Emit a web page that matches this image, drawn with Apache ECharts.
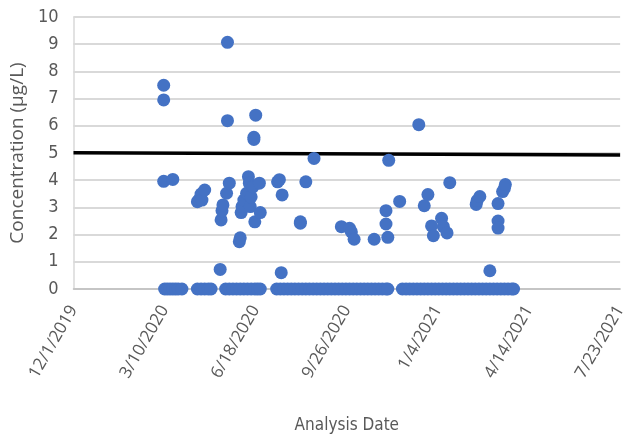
<!DOCTYPE html>
<html>
<head>
<meta charset="utf-8">
<script src="https://cdn.jsdelivr.net/npm/echarts@6/dist/echarts.min.js"></script>
<style>html,body{margin:0;padding:0;background:#fff;}#c{width:629px;height:445px;}</style>
</head>
<body>
<div id="c"></div>
<script>
// ---- data ----
const detectDates = [
 '2020-03-09','2020-03-09','2020-03-09','2020-03-19',
 '2020-04-15','2020-04-17','2020-04-19','2020-04-20','2020-04-23',
 '2020-05-10','2020-05-11','2020-05-12','2020-05-13','2020-05-17','2020-05-18','2020-05-18','2020-05-20',
 '2020-05-31','2020-06-01','2020-06-02','2020-06-03','2020-06-05','2020-06-08','2020-06-10','2020-06-11',
 '2020-06-12','2020-06-13','2020-06-15','2020-06-16','2020-06-16','2020-06-17','2020-06-18','2020-06-22','2020-06-23',
 '2020-07-12','2020-07-14','2020-07-16','2020-07-17',
 '2020-08-06','2020-08-06','2020-08-12','2020-08-21',
 '2020-09-20','2020-09-29','2020-10-01','2020-10-04','2020-10-26',
 '2020-11-08','2020-11-08','2020-11-10','2020-11-11','2020-11-23',
 '2020-12-14','2020-12-20','2020-12-24','2020-12-28','2020-12-30',
 '2021-01-08','2021-01-10','2021-01-14','2021-01-17',
 '2021-02-15','2021-02-16','2021-02-19',
 '2021-03-02','2021-03-11','2021-03-11','2021-03-11','2021-03-16','2021-03-18','2021-03-19'
];
const detectValues = [
 7.49,6.95,3.96,4.03,
 3.21,3.30,3.49,3.27,3.64,
 0.72,2.54,2.88,3.09,3.52,9.07,6.19,3.89,
 1.74,1.88,2.81,3.03,3.27,3.52,4.13,3.89,
 3.03,3.39,3.76,5.58,5.50,2.47,6.39,3.89,2.81,
 3.94,4.02,0.60,3.46,
 2.47,2.42,3.94,4.80,
 2.29,2.23,2.10,1.83,1.83,
 2.88,2.39,1.90,4.73,3.22,
 6.04,3.06,3.47,2.32,1.96,
 2.60,2.29,2.06,3.91,
 3.11,3.25,3.40,
 0.67,3.14,2.50,2.24,3.58,3.70,3.84
];
const nonDetectDates = [
 '2020-03-10','2020-03-13','2020-03-16','2020-03-19','2020-03-22','2020-03-25','2020-03-29',
 '2020-04-15','2020-04-19','2020-04-23','2020-04-27','2020-04-30',
 '2020-05-16','2020-05-20','2020-05-24','2020-05-28','2020-06-01','2020-06-05','2020-06-09','2020-06-13','2020-06-17','2020-06-20','2020-06-23',
 '2020-07-11','2020-07-15','2020-07-19','2020-07-23','2020-07-27','2020-07-31','2020-08-04','2020-08-08','2020-08-12','2020-08-16',
 '2020-08-20','2020-08-24','2020-08-28','2020-09-01','2020-09-05','2020-09-09','2020-09-13','2020-09-17','2020-09-21','2020-09-25',
 '2020-09-29','2020-10-03','2020-10-07','2020-10-11','2020-10-15','2020-10-19','2020-10-23','2020-10-27','2020-10-31','2020-11-04','2020-11-08','2020-11-10',
 '2020-11-26','2020-11-30','2020-12-04','2020-12-08','2020-12-12','2020-12-16','2020-12-20','2020-12-24','2020-12-28',
 '2021-01-01','2021-01-05','2021-01-09','2021-01-13','2021-01-17','2021-01-21','2021-01-25','2021-01-29',
 '2021-02-02','2021-02-06','2021-02-10','2021-02-14','2021-02-18','2021-02-22','2021-02-26',
 '2021-03-02','2021-03-06','2021-03-10','2021-03-14','2021-03-18','2021-03-22','2021-03-26','2021-03-28'
];
const nonDetectValue = 0;
const standardDates = ['2019-12-01','2021-07-23'];
const standardValues = [5.01, 4.93];
const xMinDate = '2019-12-01';
const xMaxDate = '2021-07-23';
const xTickDays = 100;
const yMin = 0, yMax = 10, yStep = 1;
const yAxisTitle = 'Concentration (µg/L)';
const xAxisTitle = 'Analysis Date';

// ---- helpers ----
function ts(s){ const p = s.split('-').map(Number); return Date.UTC(p[0], p[1]-1, p[2]); }
const DAY = 86400000;

const pts = detectDates.map((d,i)=>[ts(d), detectValues[i]]);
const zeros = nonDetectDates.map(d=>[ts(d), nonDetectValue]);
const stdLine = standardDates.map((d,i)=>[ts(d), standardValues[i]]);

const chart = echarts.init(document.getElementById('c'), null, {renderer:'canvas'});
const gray = '#595959';
const narrow = '"Liberation Sans Narrow", "DejaVu Sans Condensed", Lato, sans-serif';
chart.setOption({
  animation:false,
  backgroundColor:'#fff',
  grid:{left:67, right:6, top:17, bottom:156, containLabel:false},
  xAxis:{
    type:'value',
    min: ts(xMinDate), max: ts(xMaxDate), interval: xTickDays*DAY,
    name: xAxisTitle, nameLocation:'middle', nameGap:128,
    nameTextStyle:{color:gray, fontSize:17, fontFamily:narrow},
    axisLine:{show:true, lineStyle:{color:'#bfbfbf', width:1.5}},
    axisTick:{show:false},
    splitLine:{show:false},
    axisLabel:{
      color:gray, fontSize:17, fontFamily:'Open Sans', rotate:60, margin:18,
      formatter:function(v){ const d=new Date(v); return (d.getUTCMonth()+1)+'/'+d.getUTCDate()+'/'+d.getUTCFullYear(); }
    }
  },
  yAxis:{
    type:'value', min:yMin, max:yMax, interval:yStep,
    name: yAxisTitle, nameLocation:'middle', nameGap:40,
    nameTextStyle:{color:gray, fontSize:19, fontFamily:'Open Sans'},
    axisLine:{show:true, lineStyle:{color:'#d9d9d9', width:1.5}},
    axisTick:{show:false},
    splitLine:{show:true, lineStyle:{color:'#d9d9d9', width:2}},
    axisLabel:{color:gray, fontSize:18, fontFamily:narrow, margin:15}
  },
  series:[
    {type:'line', data:stdLine, symbol:'none', lineStyle:{color:'#000', width:3.5}, z:1, silent:true},
    {type:'scatter', data:zeros, symbol:'circle', symbolSize:13, itemStyle:{color:'#4472C4', opacity:1}, z:3},
    {type:'scatter', data:pts, symbol:'circle', symbolSize:13, itemStyle:{color:'#4472C4', opacity:1}, z:3}
  ]
});
</script>
</body>
</html>
